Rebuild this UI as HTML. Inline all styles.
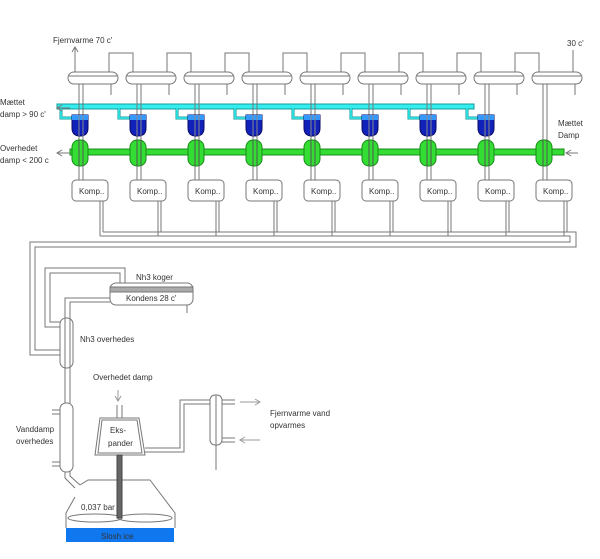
<!DOCTYPE html>
<html><head><style>
html,body{margin:0;padding:0;background:#fff}
svg{display:block}
text{font-family:"Liberation Sans",sans-serif;font-size:8px;fill:#333}
</style></head><body>
<svg width="600" height="559" viewBox="0 0 600 559" xmlns="http://www.w3.org/2000/svg">
<defs>
<g id="col" fill="none" stroke="#777" stroke-width="1">
  <rect x="0" y="72" width="50" height="12" rx="6" fill="#fff"/>
  <line x1="1" y1="76" x2="49" y2="76"/>
  <line x1="43" y1="84" x2="43" y2="95"/>
  <line x1="7" y1="64" x2="7" y2="72"/>
  <line x1="41" y1="64" x2="41" y2="72"/>
  <line x1="11" y1="84" x2="11" y2="180"/>
  <line x1="15" y1="84" x2="15" y2="180"/>
  <rect x="4" y="140" width="16" height="26" rx="7" fill="#33dd33" stroke="#1a8a1a"/>
  <line x1="11" y1="140" x2="11" y2="166" stroke="#555"/>
  <line x1="15" y1="140" x2="15" y2="166" stroke="#555"/>
  <rect x="4" y="180" width="36" height="21" rx="4" fill="#fff"/>
  <text x="11" y="194" stroke="none">Komp..</text>
  <line x1="32" y1="201" x2="32" y2="236"/>
  <line x1="35" y1="201" x2="35" y2="232"/>
</g>
<g id="blue">
  <path d="M61 108 V118 H72" fill="none" stroke="#1a9a9a" stroke-width="3"/>
  <path d="M61 108 V118 H72" fill="none" stroke="#33eeee" stroke-width="1.5"/>
  <path d="M72 115 H88 V128 Q88 136 80 136 Q72 136 72 128 Z" fill="#1122bb" stroke="#0a0a66"/>
  <path d="M72 115 H88 V120 H72 Z" fill="#3399ff" stroke="none"/>
  <line x1="79" y1="115" x2="79" y2="136" stroke="#888"/>
  <line x1="83" y1="115" x2="83" y2="136" stroke="#888"/>
</g>
</defs>

<rect x="57" y="104" width="417" height="5" fill="#33eeee" stroke="#1a9a9a" stroke-width="1"/>
<rect x="70" y="149" width="494" height="6" fill="#33dd33" stroke="#1a8a1a" stroke-width="1"/>

<use href="#col" x="68"/><use href="#col" x="126"/><use href="#col" x="184"/>
<use href="#col" x="242"/><use href="#col" x="300"/><use href="#col" x="358"/>
<use href="#col" x="416"/><use href="#col" x="474"/><use href="#col" x="532"/>

<use href="#blue" x="0"/><use href="#blue" x="58"/><use href="#blue" x="116"/>
<use href="#blue" x="174"/><use href="#blue" x="232"/><use href="#blue" x="290"/>
<use href="#blue" x="348"/><use href="#blue" x="406"/>

<g fill="none" stroke="#777" stroke-width="1">
  <path d="M109 64 V53 H133 V64"/><path d="M225 64 V53 H249 V64"/>
  <path d="M341 64 V53 H365 V64"/><path d="M457 64 V53 H481 V64"/>
  <path d="M167 64 V53 H191 V64"/><path d="M283 64 V53 H307 V64"/>
  <path d="M399 64 V53 H423 V64"/><path d="M515 64 V53 H539 V64"/>
  <line x1="573" y1="64" x2="573" y2="50"/>
  <path d="M75 64 V48 M72 52 L75 47 L78 52"/>
  <path d="M70 108 H58 M62 105 L57 108 L62 111"/>
  <path d="M70 153 H57 M62 150 L57 153 L62 156"/>
  <path d="M578 153 H567 M571 150 L566 153 L571 156"/>
  <path d="M100 236 H570 V242 H30 V355 H60"/>
  <path d="M103 232 H576 V247 H35 V350 H60"/>
  <rect x="60" y="318" width="13" height="50" rx="6" fill="#fff"/>
  <path d="M60 327 H45 V268 H125 V283"/>
  <path d="M60 322 H50 V273 H120 V283"/>
  <rect x="110" y="283" width="83" height="22" rx="6" fill="#fff"/>
  <rect x="110" y="287" width="83" height="5" fill="#aaa" stroke="#777"/>
  <line x1="187" y1="305" x2="187" y2="313"/>
  <path d="M110 298 H65 V478 L75 488"/>
  <path d="M110 302 H70 V476 L80 485"/>
  <rect x="60" y="403" width="13" height="69" rx="6" fill="#fff"/>
  <path d="M52 410 H60 M52 414 H60 M52 462 H60 M52 466 H60"/>
  <line x1="65" y1="368" x2="65" y2="403"/><line x1="70" y1="368" x2="70" y2="403"/>
  <line x1="65" y1="472" x2="65" y2="478"/><line x1="70" y1="472" x2="70" y2="476"/>
  <path d="M80 485 L88 480 H150 L175 513 V528 M66 528 V513 L75 497"/>
  <ellipse cx="95" cy="518" rx="27" ry="4"/>
  <ellipse cx="145" cy="518" rx="27" ry="4"/>
  <path d="M100 418 H139 L145 455 H95 Z" fill="#fff"/>
  <path d="M102 420 H137 L142 453 H98 Z"/>
  <path d="M117 418 V405 M122 418 V405"/>
  <path d="M118 390 V400 M115 396 L118 401 L121 396" stroke="#999"/>
  <rect x="117" y="455" width="5" height="63" fill="#666" stroke="#444"/>
  <path d="M145 448 H180 V400 H212"/>
  <path d="M145 452 H184 V404 H212"/>
  <rect x="210" y="395" width="12" height="50" rx="5" fill="#fff"/>
  <line x1="216" y1="395" x2="216" y2="470"/>
  <path d="M222 400 H235 M222 404 H235 M222 438 H235 M222 442 H235"/>
  <path d="M240 402 H260 M255 399 L260 402 L255 405" stroke="#999"/>
  <path d="M260 440 H240 M245 437 L240 440 L245 443" stroke="#999"/>
</g>
<rect x="66" y="528" width="108" height="14" fill="#1177ee"/>

<text x="53" y="43">Fjernvarme 70 c'</text>
<text x="567" y="46">30 c'</text>
<text x="0" y="105">Mættet</text>
<text x="0" y="117">damp &gt; 90 c'</text>
<text x="0" y="151">Overhedet</text>
<text x="0" y="163">damp &lt; 200 c</text>
<text x="558" y="126">Mættet</text>
<text x="558" y="138">Damp</text>
<text x="136" y="280">Nh3 koger</text>
<text x="126" y="301">Kondens 28 c'</text>
<text x="80" y="342">Nh3 overhedes</text>
<text x="93" y="380">Overhedet damp</text>
<text x="16" y="432">Vanddamp</text>
<text x="16" y="444">overhedes</text>
<text x="110" y="433">Eks-</text>
<text x="108" y="446">pander</text>
<text x="270" y="416">Fjernvarme vand</text>
<text x="270" y="428">opvarmes</text>
<text x="81" y="510">0,037 bar</text>
<text x="101" y="539">Slosh ice</text>
</svg>
</body></html>
